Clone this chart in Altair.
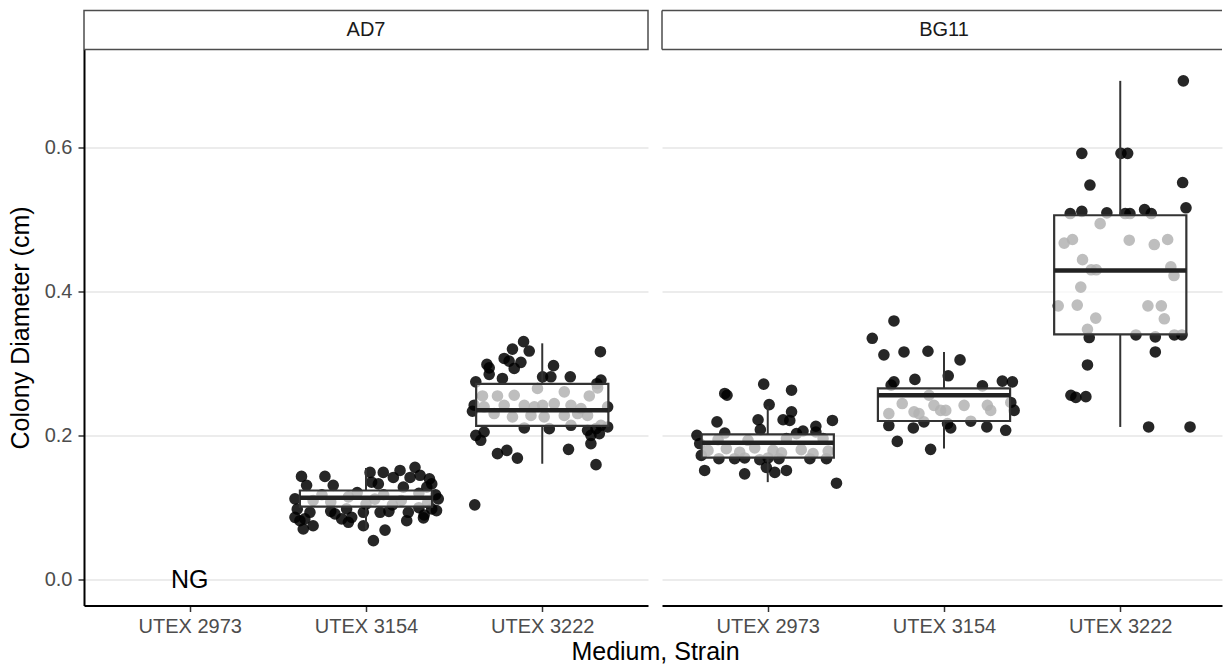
import altair as alt
import pandas as pd

media = ["AD7", "BG11"]
strains = ["UTEX 2973", "UTEX 3154", "UTEX 3222"]

# jittered observations: horizontal offset from category centre, colony diameter (cm)
ad7_3154_dx = [-0.366, -0.233, -0.186, -0.337, -0.403, 0.023, 0.098, 0.032, 0.07, 0.193,
               0.278, 0.25, 0.307, 0.345, 0.373, 0.41, 0.4, -0.403, -0.375, -0.347,
               -0.356, -0.3, -0.318, -0.176, -0.138, -0.1, -0.081, -0.015, 0.042, 0.108,
               0.231, 0.326, 0.24, 0.373, -0.015, 0.08, -0.11, 0.155, 0.212, 0.395,
               -0.3, -0.2, -0.1, 0.0, 0.1, 0.2, 0.3, 0.15, -0.25, 0.05, 0.35, -0.05,
               0.3, 0.36, 0.33, -0.39, -0.2, 0.13]
ad7_3154_val = [0.1434, 0.1434, 0.131, 0.131, 0.1123, 0.149, 0.149, 0.1354, 0.133, 0.1517,
                0.156, 0.142, 0.145, 0.1285, 0.133, 0.1123, 0.096, 0.0867, 0.082, 0.0845,
                0.0705, 0.075, 0.0937, 0.0914, 0.0845, 0.0798, 0.0867, 0.075, 0.0543, 0.069,
                0.082, 0.086, 0.0937, 0.0984, 0.0937, 0.0937, 0.0984, 0.142, 0.1285, 0.118,
                0.11, 0.108, 0.115, 0.105, 0.118, 0.11, 0.12, 0.104, 0.118, 0.112, 0.107, 0.121,
                0.1, 0.14, 0.09, 0.098, 0.095, 0.095]

ad7_3222_dx = [-0.106, -0.169, -0.074, -0.216, -0.188, -0.314, -0.301, -0.159, -0.121, 0.33,
               0.064, -0.301, -0.226, -0.377, 0.002, 0.049, 0.159, 0.333, -0.386, -0.396,
               0.371, -0.102, 0.04, 0.163, 0.257, 0.305, 0.333, 0.371, -0.377, -0.349,
               -0.33, 0.276, 0.324, 0.276, -0.254, -0.201, -0.141, 0.149, 0.305, -0.383,
               -0.339, -0.254, -0.159, -0.027, 0.125, 0.267, 0.314, -0.102, -0.045, 0.002,
               0.068, -0.33, -0.216, -0.064, 0.011, 0.125, 0.201, 0.257, -0.273, -0.169,
               0.163, 0.22, 0.31]
ad7_3222_val = [0.3303, 0.32, 0.3173, 0.307, 0.3034, 0.2988, 0.294, 0.2932, 0.3016, 0.3164,
                0.297, 0.285, 0.2793, 0.2746, 0.2816, 0.2816, 0.2816, 0.277, 0.2422, 0.2338,
                0.24, 0.2106, 0.2097, 0.2143, 0.2074, 0.2097, 0.2143, 0.212, 0.2004, 0.1935,
                0.205, 0.2004, 0.2028, 0.1889, 0.175, 0.1795, 0.1688, 0.181, 0.1597, 0.104,
                0.255, 0.255, 0.256, 0.2654, 0.2607, 0.255, 0.2663, 0.242, 0.24, 0.242,
                0.2445, 0.24, 0.242, 0.228, 0.226, 0.228, 0.2306, 0.228, 0.2306, 0.226,
                0.242, 0.2376, 0.272]

bg11_2973_dx = [-0.023, 0.135, -0.244, -0.231, 0.008, 0.135, 0.087, 0.125, -0.055, 0.367,
                -0.288, 0.273, -0.402, -0.244, -0.042, 0.2, 0.273, 0.163, -0.386, -0.377,
                -0.358, -0.277, -0.188, -0.131, -0.045, 0.002, 0.064, -0.131, -0.008, 0.04,
                0.106, 0.239, 0.333, 0.39,
                -0.339, -0.235, -0.159, -0.074, 0.03, 0.078, 0.19, 0.257, 0.343, -0.282,
                -0.112, 0.106, 0.314]
bg11_2973_val = [0.2714, 0.263, 0.2585, 0.256, 0.243, 0.233, 0.222, 0.221, 0.222, 0.221,
                 0.219, 0.213, 0.2004, 0.2036, 0.2083, 0.2064, 0.205, 0.2028, 0.189, 0.1726,
                 0.1517, 0.168, 0.168, 0.169, 0.1666, 0.169, 0.168, 0.147, 0.156, 0.149,
                 0.1517, 0.168, 0.168, 0.134,
                 0.1795, 0.182, 0.177, 0.183, 0.1795, 0.176, 0.1805, 0.175, 0.1786, 0.1944,
                 0.1935, 0.196, 0.196]

bg11_3154_dx = [-0.284, -0.407, -0.341, -0.227, -0.091, 0.091, 0.024, -0.284, -0.165, 0.218,
                0.331, 0.388, -0.3, -0.237, -0.313, -0.17, -0.142, -0.057, -0.019, 0.01,
                0.114, 0.246, 0.265, 0.379, 0.398, -0.085, -0.313, -0.174, -0.114, 0.02,
                0.038, 0.152, 0.243, 0.35, -0.265, -0.076]
bg11_3154_val = [0.359, 0.335, 0.312, 0.316, 0.317, 0.305, 0.283, 0.2746, 0.278, 0.269,
                 0.2756, 0.2746, 0.27, 0.2445, 0.2306, 0.233, 0.2306, 0.242, 0.235, 0.235,
                 0.242, 0.242, 0.235, 0.246, 0.235, 0.256, 0.214, 0.2106, 0.219, 0.2167,
                 0.2106, 0.22, 0.212, 0.2074, 0.192, 0.181]

bg11_3222_dx = [0.358, -0.218, 0.004, 0.042, -0.172, 0.354, 0.373, -0.284, -0.218, -0.076,
                0.028, 0.055, 0.138, 0.176, -0.114, -0.318, -0.271, 0.051, 0.193, 0.269,
                -0.214, -0.165, -0.136, 0.287, 0.305, -0.224, -0.352, -0.244, 0.157, 0.233,
                -0.139, 0.25, -0.186, -0.176, 0.089, 0.199, 0.307, 0.35, 0.199, -0.186,
                -0.28, -0.252, -0.195, 0.161, 0.396]
bg11_3222_val = [0.692, 0.5915, 0.5915, 0.5915, 0.5475, 0.551, 0.516, 0.508, 0.511, 0.509,
                 0.508, 0.508, 0.5135, 0.508, 0.494, 0.467, 0.472, 0.471, 0.465, 0.472,
                 0.444, 0.43, 0.43, 0.434, 0.422, 0.406, 0.38, 0.381, 0.38, 0.38,
                 0.363, 0.362, 0.3475, 0.336, 0.3396, 0.337, 0.3396, 0.3396, 0.316, 0.298,
                 0.256, 0.253, 0.254, 0.212, 0.212]

# box summaries
box_medium = ["AD7", "AD7", "BG11", "BG11", "BG11"]
box_pos = [2, 3, 1, 2, 3]
box_lo = [0.07, 0.161, 0.1355, 0.182, 0.212]
box_q1 = [0.1016, 0.2134, 0.1694, 0.2203, 0.3405]
box_med = [0.1137, 0.2352, 0.19, 0.256, 0.429]
box_q3 = [0.1239, 0.2718, 0.2016, 0.2654, 0.5056]
box_hi = [0.155, 0.328, 0.2408, 0.316, 0.692]

groups = [
    ("AD7", 2, ad7_3154_dx, ad7_3154_val),
    ("AD7", 3, ad7_3222_dx, ad7_3222_val),
    ("BG11", 1, bg11_2973_dx, bg11_2973_val),
    ("BG11", 2, bg11_3154_dx, bg11_3154_val),
    ("BG11", 3, bg11_3222_dx, bg11_3222_val),
]
rows = []
for med, pos, dxs, vals in groups:
    for d, v in zip(dxs, vals):
        rows.append({"medium": med, "x": pos + d, "value": v})
pts = pd.DataFrame(rows)

box = pd.DataFrame({"medium": box_medium, "pos": box_pos, "lo": box_lo, "q1": box_q1,
                    "med": box_med, "q3": box_q3, "hi": box_hi})
box["xlo"] = box["pos"] - 0.375
box["xhi"] = box["pos"] + 0.375

ng = pd.DataFrame({"medium": ["AD7"], "pos": [1], "value": [0.0], "label": ["NG"]})

FONT = "Liberation Sans"
PW_LEFT, PW_RIGHT, PH = 564, 560, 556
STRIP_H = 39
label_expr = "[" + ",".join("'%s'" % s for s in strains) + "][datum.value - 1]"
yscale = alt.Scale(domain=[-0.0356, 0.7355], nice=False, zero=False)


def panel(medium, width, xmax, left):
    xscale = alt.Scale(domain=[0.4, xmax], nice=False, zero=False)
    xaxis_kw = dict(values=[1, 2, 3], labelExpr=label_expr, grid=False,
                    labelFontSize=20, labelColor="#4d4d4d", labelFont=FONT, labelPadding=5,
                    tickSize=6, tickColor="#333333", tickWidth=1.5,
                    domainColor="black", domainWidth=2, labelFlush=False)
    if left:
        xaxis = alt.Axis(title=None, **xaxis_kw)
        yaxis = alt.Axis(values=[0, 0.2, 0.4, 0.6], format=".1f", title="Colony Diameter (cm)",
                         titleFontSize=25, titleFontWeight="normal", titleColor="black",
                         titleFont=FONT, titlePadding=11,
                         labelFontSize=20, labelColor="#4d4d4d", labelFont=FONT, labelPadding=6,
                         tickSize=6, tickColor="#333333", tickWidth=1.5,
                         domainColor="black", domainWidth=2,
                         grid=True, gridColor="#d9d9d9", gridWidth=1.2)
    else:
        xaxis = alt.Axis(title="Medium, Strain", titleFontSize=25, titleFontWeight="normal",
                         titleColor="black", titleFont=FONT, titleX=-7, titleY=54,
                         titleBaseline="alphabetic", **xaxis_kw)
        yaxis = alt.Axis(values=[0, 0.2, 0.4, 0.6], labels=False, ticks=False, domain=False,
                         title=None, grid=True, gridColor="#d9d9d9", gridWidth=1.2)

    X = lambda f: alt.X(f, type="quantitative", scale=xscale, axis=xaxis)
    Y = lambda f: alt.Y(f, type="quantitative", scale=yscale, axis=yaxis)

    p = pts[pts["medium"] == medium]
    b = box[box["medium"] == medium]

    points = alt.Chart(p).mark_circle(size=135, color="black", opacity=0.85).encode(
        x=X("x"), y=Y("value"))
    wlo = alt.Chart(b).mark_rule(color="#333333", strokeWidth=2).encode(
        x=X("pos"), y=Y("lo"), y2="q1")
    whi = alt.Chart(b).mark_rule(color="#333333", strokeWidth=2).encode(
        x=X("pos"), y=Y("q3"), y2="hi")
    rect = alt.Chart(b).mark_rect(fill="white", fillOpacity=0.7, stroke="#333333",
                                  strokeWidth=2.2).encode(
        x=X("xlo"), x2="xhi", y=Y("q1"), y2="q3")
    medl = alt.Chart(b).mark_rule(color="#222222", strokeWidth=4.5).encode(
        x=X("xlo"), x2="xhi", y=Y("med"))

    strip_df = pd.DataFrame({"label": [medium]})
    strip_bg = alt.Chart(strip_df).mark_rect(fill="white", stroke="#4d4d4d" if left else "white",
                                             strokeWidth=1.5 if left else 0).encode(
        x=alt.value(0), x2=alt.value(width), y=alt.value(-STRIP_H), y2=alt.value(0))
    strip_txt = alt.Chart(strip_df).mark_text(fontSize=20, font=FONT, color="#1a1a1a",
                                              baseline="middle", align="center").encode(
        text="label:N", x=alt.value(282), y=alt.value(-STRIP_H / 2))
    layers = [points, wlo, whi, rect, medl, strip_bg, strip_txt]
    if not left:
        edge = dict(color="#4d4d4d", strokeWidth=1.5)
        layers += [
            alt.Chart(strip_df).mark_rule(**edge).encode(
                x=alt.value(0), x2=alt.value(width), y=alt.value(-STRIP_H)),
            alt.Chart(strip_df).mark_rule(**edge).encode(
                x=alt.value(0), x2=alt.value(width), y=alt.value(0)),
            alt.Chart(strip_df).mark_rule(**edge).encode(
                x=alt.value(0), y=alt.value(-STRIP_H), y2=alt.value(0)),
        ]
    if left:
        n = ng[ng["medium"] == medium]
        layers.append(alt.Chart(n).mark_text(fontSize=25, font=FONT, color="black",
                                             baseline="middle").encode(
            x=X("pos"), y=Y("value"), text="label:N"))
    return alt.layer(*layers).properties(width=width, height=PH)


left = panel("AD7", PW_LEFT, 3.6, True)
right = panel("BG11", PW_RIGHT, 0.4 + PW_RIGHT / 176.25, False)

chart = (
    alt.hconcat(left, right, spacing=14, bounds="flush")
    .properties(padding={"left": 8, "top": 9.5, "right": 0, "bottom": 0})
    .configure(font=FONT)
    .configure_view(stroke=None, strokeWidth=0)
)

chart.save("out.html", embed_options={"renderer": "svg", "actions": False})
